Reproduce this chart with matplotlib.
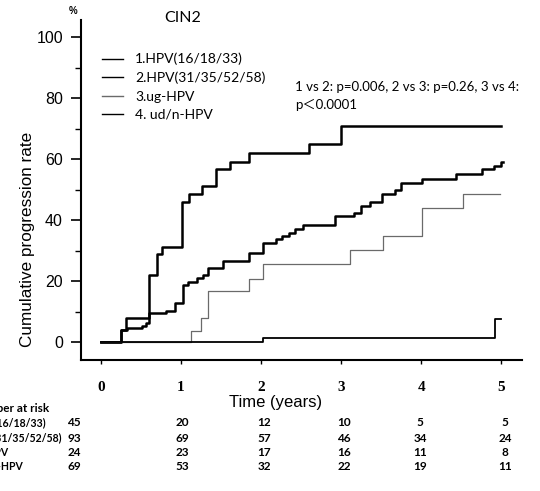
import numpy as np
import matplotlib
matplotlib.use('Agg')
import matplotlib.pyplot as plt

# curvas de progresion acumulada (lectura aproximada del grafico)
t1 = [0, 0.25, 0.32, 0.60, 0.70, 0.76, 1.01, 1.10, 1.26, 1.44, 1.61, 1.85, 2.60, 3.00, 5.00]
v1 = [0, 3.9, 8.0, 22.0, 29.0, 31.0, 46.0, 48.7, 51.0, 56.7, 59.0, 62.0, 65.0, 71.0, 71.0]

t2 = [0, 0.25, 0.33, 0.51, 0.57, 0.60, 0.82, 0.925, 1.02, 1.09, 1.20, 1.27, 1.34, 1.53,
      1.85, 2.02, 2.19, 2.26, 2.35, 2.42, 2.52, 2.92, 3.16, 3.25, 3.36, 3.51, 3.67, 3.75,
      4.01, 4.43, 4.76, 4.91, 5.00, 5.02]
v2 = [0, 3.9, 4.5, 5.2, 6.3, 9.4, 10.2, 12.7, 18.7, 19.8, 20.9, 22.0, 24.2, 26.6,
      29.1, 32.6, 33.7, 34.8, 35.8, 36.9, 38.5, 41.3, 42.2, 44.6, 45.8, 48.5, 49.8, 52.0,
      53.6, 55.0, 56.7, 57.7, 59.1, 59.1]

t3 = [0, 1.13, 1.25, 1.34, 1.85, 2.03, 3.11, 3.52, 4.01, 4.52, 4.98]
v3 = [0, 3.6, 7.8, 16.7, 20.6, 25.5, 30.2, 34.8, 44.0, 48.7, 48.7]

t4 = [0, 2.02, 4.92, 4.99]
v4 = [0, 1.2, 7.4, 7.4]

etiquetas = ['1.HPV(16/18/33)', '2.HPV(31/35/52/58)', '3.ug-HPV', '4. ud/n-HPV']

# numero en riesgo
anios = [0, 1, 2, 3, 4, 5]
riesgo1 = [45, 20, 12, 10, 5, 5]
riesgo2 = [93, 69, 57, 46, 34, 24]
riesgo3 = [24, 23, 17, 16, 11, 8]
riesgo4 = [69, 53, 32, 22, 19, 11]

W, H = 540, 491
fig = plt.figure(figsize=(W / 100, H / 100), dpi=100)
ax = fig.add_axes([81 / W, 1 - 360 / H, (522 - 81) / W, (360 - 20) / H])

ax.step(t1, v1, where='post', color='black', lw=1.8, label=etiquetas[0])
ax.step(t2, v2, where='post', color='black', lw=1.8, label=etiquetas[1])
ax.step(t3, v3, where='post', color='#6a6a6a', lw=0.9, label=etiquetas[2])
ax.step(t4, v4, where='post', color='black', lw=1.3, label=etiquetas[3])

ax.set_xlim(-0.247, 5.257)
ax.set_ylim(-5.9, 105.6)
for s in ['top', 'right']:
    ax.spines[s].set_visible(False)
for s in ['left', 'bottom']:
    ax.spines[s].set_linewidth(1.5)

ax.set_yticks([0, 20, 40, 60, 80, 100])
ax.set_yticks([10, 30, 50, 70, 90], minor=True)
ax.tick_params(axis='y', which='major', length=7, width=1.2, pad=6, labelsize=11.5)
ax.tick_params(axis='y', which='minor', length=4, width=1.0)
for lab in ax.get_yticklabels():
    lab.set_family('Liberation Sans')

ax.set_xticks(anios)
ax.set_xticklabels([str(a) for a in anios], family='Liberation Serif', fontweight='bold', fontsize=11)
ax.tick_params(axis='x', length=3, width=1.0, pad=12)

ax.set_ylabel('Cumulative progression rate', family='Liberation Sans', fontsize=12.3)
ax.yaxis.set_label_coords(-0.105, 0.356)
fig.text(276 / W, 1 - 402 / H, 'Time (years)', family='Liberation Sans', fontsize=12,
         ha='center', va='center')

fig.text(183 / W, 1 - 18 / H, 'CIN2', family='Lato', fontsize=11.5, ha='center', va='center')
fig.text(73 / W, 1 - 11 / H, '%', family='Liberation Sans', fontweight='bold', fontsize=7,
         ha='center', va='center')

leg = ax.legend(loc='upper left', bbox_to_anchor=(95 / W, 1 - 46 / H),
                bbox_transform=fig.transFigure, frameon=False,
                prop={'family': 'Lato', 'size': 10}, handlelength=1.5,
                handletextpad=0.9, labelspacing=0.45, borderpad=0)
for ln in leg.get_lines():
    ln.set_linewidth(1.0)

fig.text(295 / W, 1 - 87 / H, '1 vs 2: p=0.006, 2 vs 3: p=0.26, 3 vs 4:', family='Lato',
         fontsize=9.5, ha='left', va='center')
fig.text(295 / W, 1 - 105 / H, 'p\uff1c0.0001', family=['Lato', 'Noto Sans CJK JP'],
         fontsize=9.5, ha='left', va='center')

# tabla de numero en riesgo
col_x = [74, 182, 264, 344, 420, 505]
fila_y = [423, 438, 452, 466]
fig.text(-29 / W, 1 - 409 / H, 'Number at risk', family='Lato', fontweight='bold',
         fontsize=8.5, ha='left', va='center')
for yy, nombre, vals in zip(fila_y, etiquetas, [riesgo1, riesgo2, riesgo3, riesgo4]):
    fig.text(-37 / W, 1 - yy / H, nombre, family='Lato', fontweight='bold', fontsize=7.6,
             ha='left', va='center')
    for xx, v in zip(col_x, vals):
        fig.text(xx / W, 1 - yy / H, str(v), family='Lato', fontweight='bold', fontsize=8.5,
                 ha='center', va='center')

fig.savefig('out.png', dpi=100)
